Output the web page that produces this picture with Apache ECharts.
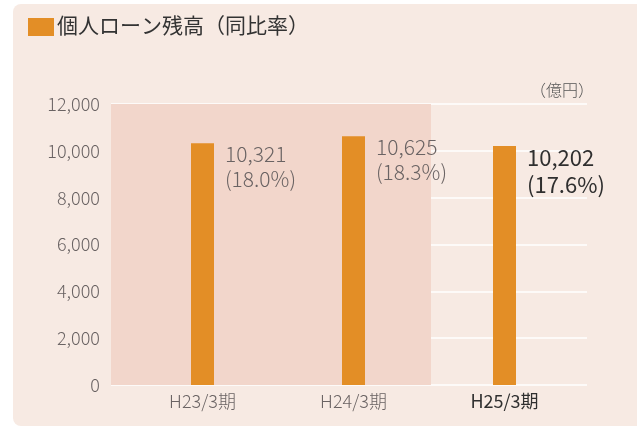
<!DOCTYPE html>
<html>
<head>
<meta charset="utf-8">
<script src="https://cdn.jsdelivr.net/npm/echarts@6/dist/echarts.min.js"></script>
<style>
html,body{margin:0;padding:0;background:#ffffff;}
#c{width:637px;height:427px;}
</style>
</head>
<body>
<div id="c"></div>
<script>
const categories = ['H23/3期', 'H24/3期', 'H25/3期'];
const balances = [10321, 10625, 10202];
const ratios = ['18.0', '18.3', '17.6'];
const yTicks = [0, 2000, 4000, 6000, 8000, 10000, 12000];
const titleText = '個人ローン残高（同比率）';
const unitText = '（億円）';

const FONT = '"Noto Sans CJK JP", "Noto Sans", sans-serif';
const chart = echarts.init(document.getElementById('c'), null, {renderer: 'canvas'});

const barData = balances.map((v, i) => {
  const last = i === balances.length - 1;
  return {
    value: v,
    label: {
      color: last ? '#2f2f2f' : '#6a6363',
      fontSize: last ? 22 : 21,
      fontWeight: last ? 400 : 300,
      lineHeight: last ? 27 : 25
    }
  };
});

chart.setOption({
  animation: false,
  backgroundColor: '#ffffff',
  graphic: [
    {type: 'rect', shape: {x: 13, y: 4, width: 640, height: 422, r: 8}, style: {fill: '#f7eae3'}, z: -10, silent: true},
    {type: 'rect', shape: {x: 28, y: 18, width: 26, height: 18}, style: {fill: '#e38e26'}, silent: true},
    {type: 'text', x: 57, y: 15, style: {text: titleText, font: '21px ' + FONT, fill: '#333333'}, silent: true},
    {type: 'text', x: 530, y: 82, style: {text: unitText, font: '300 16px ' + FONT, fill: '#555555'}, silent: true}
  ],
  grid: [
    {left: 111, right: 50, top: 104, bottom: 42},
    {left: 127, right: 57, top: 104, bottom: 42}
  ],
  xAxis: [
    {gridIndex: 0, type: 'value', min: 0, max: 476, show: false},
    {
      gridIndex: 1, type: 'category', data: categories,
      axisLine: {show: false}, axisTick: {show: false},
      axisLabel: {
        margin: 7,
        fontFamily: FONT,
        formatter: (v, i) => i === categories.length - 1 ? '{b|' + v + '}' : '{a|' + v + '}',
        rich: {
          a: {fontSize: 18, color: '#6a6363', fontFamily: FONT, fontWeight: 300},
          b: {fontSize: 18, color: '#2f2f2f', fontFamily: FONT, fontWeight: 400}
        }
      }
    }
  ],
  yAxis: [
    {
      gridIndex: 0, type: 'value', min: 0, max: 12000, interval: 2000,
      axisLine: {show: false}, axisTick: {show: false},
      axisLabel: {
        margin: 11, fontSize: 18, color: '#6a6363', fontFamily: FONT, fontWeight: 300,
        formatter: v => v.toLocaleString('en-US')
      },
      splitLine: {lineStyle: {color: '#ffffff', width: 1.5}}
    },
    {gridIndex: 1, type: 'value', min: 0, max: 12000, show: false}
  ],
  series: [
    {
      type: 'scatter', xAxisIndex: 0, yAxisIndex: 0, data: [], z: -1, silent: true,
      markArea: {
        silent: true,
        itemStyle: {color: '#f2d6cb'},
        data: [[{xAxis: 0, yAxis: 0}, {xAxis: 320, yAxis: 12000}]]
      }
    },
    {
      type: 'bar', xAxisIndex: 1, yAxisIndex: 1, barWidth: 23,
      itemStyle: {color: '#e38e26'},
      data: barData,
      label: {
        show: true,
        position: [34, -2],
        align: 'left',
        verticalAlign: 'top',
        fontFamily: FONT,
        formatter: p => p.value.toLocaleString('en-US') + '\n(' + ratios[p.dataIndex] + '%)'
      }
    }
  ]
});
</script>
</body>
</html>
